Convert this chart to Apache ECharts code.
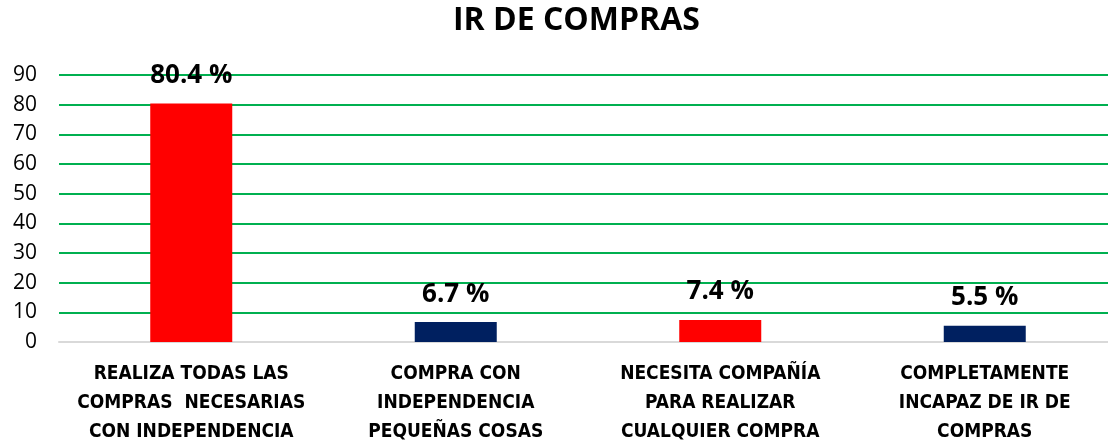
<!DOCTYPE html>
<html>
<head>
<meta charset="utf-8">
<script src="https://cdn.jsdelivr.net/npm/echarts@6/dist/echarts.min.js"></script>
<style>
  html, body { margin: 0; padding: 0; background: #fff; }
  #chart { width: 1108px; height: 444px; }
</style>
</head>
<body>
<div id="chart"></div>
<script>
// datos del grafico
const categories = [
  'REALIZA TODAS LAS\nCOMPRAS  NECESARIAS\nCON INDEPENDENCIA',
  'COMPRA CON\nINDEPENDENCIA\nPEQUEÑAS COSAS',
  'NECESITA COMPAÑÍA\nPARA REALIZAR\nCUALQUIER COMPRA',
  'COMPLETAMENTE\nINCAPAZ DE IR DE\nCOMPRAS'
]
const values = [80.4, 6.7, 7.4, 5.5]
const barColors = ['#FF0000', '#002060', '#FF0000', '#002060']
const yTicks = [0, 10, 20, 30, 40, 50, 60, 70, 80, 90]

const chart = echarts.init(document.getElementById('chart'))

chart.setOption({
  animation: false,
  title: {
    text: 'IR DE COMPRAS',
    left: 448,
    top: 0,
    textStyle: {
      fontFamily: 'Open Sans',
      fontWeight: 'bold',
      fontSize: 32,
      color: '#000'
    }
  },
  grid: {
    left: 59,
    right: -9,
    top: 75,
    bottom: 102,
    outerBoundsMode: 'none'
  },
  xAxis: {
    type: 'category',
    data: categories,
    axisTick: { show: false },
    axisLine: { lineStyle: { color: '#D9D9D9', width: 2 } },
    axisLabel: {
      interval: 0,
      margin: 18,
      color: '#000',
      fontFamily: '"DejaVu Sans Condensed", Roboto',
      fontWeight: 'bold',
      fontSize: 19,
      lineHeight: 29
    }
  },
  yAxis: {
    type: 'value',
    min: yTicks[0],
    max: yTicks[yTicks.length - 1],
    interval: 10,
    axisLine: { show: false },
    axisTick: { show: false },
    axisLabel: {
      margin: 22,
      color: '#000',
      fontFamily: 'Open Sans',
      fontSize: 21
    },
    splitLine: {
      lineStyle: { color: '#00B050', width: 2 }
    }
  },
  series: [
    {
      type: 'bar',
      barWidth: 82,
      data: values.map((v, i) => ({ value: v, itemStyle: { color: barColors[i] } })),
      label: {
        show: true,
        position: 'top',
        distance: 15,
        formatter: p => p.value + ' %',
        color: '#000',
        fontFamily: 'Open Sans',
        fontWeight: 'bold',
        fontSize: 26
      }
    }
  ]
})
</script>
</body>
</html>
